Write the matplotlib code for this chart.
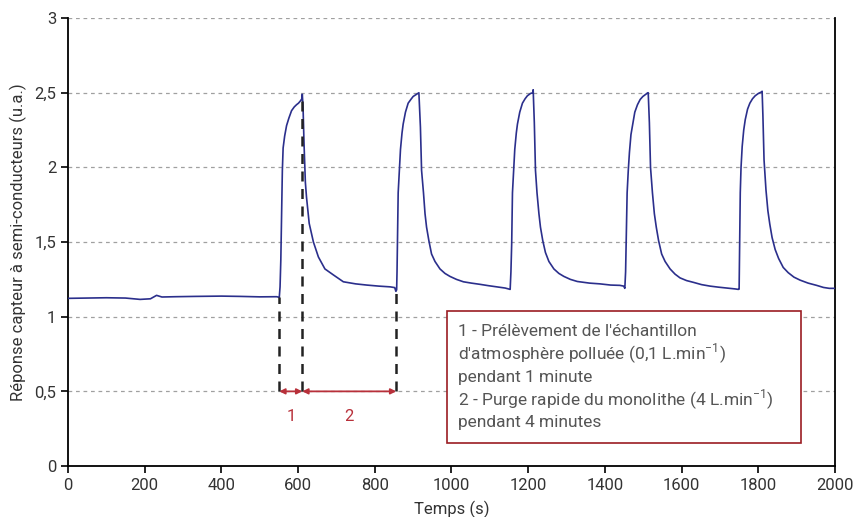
import matplotlib
matplotlib.use("Agg")
import matplotlib.pyplot as plt
from matplotlib.patches import Rectangle

plt.rcParams['font.family'] = ['Roboto', 'DejaVu Sans']
plt.rcParams['mathtext.fontset'] = 'custom'
plt.rcParams['mathtext.rm'] = 'Roboto'

# sensor response, one list pair per segment
t_base = [0, 50, 100, 150, 188, 215, 231, 245, 280, 330, 400, 450, 500, 544, 551]
y_base = [1.123, 1.125, 1.127, 1.125, 1.116, 1.12, 1.143, 1.132, 1.134, 1.136, 1.138, 1.136, 1.133, 1.134, 1.13]

t_c1 = [553, 555, 557, 559, 561, 565, 570, 576, 583, 590, 596, 601, 606, 610, 611, 613, 615.5, 619, 622,
        629, 640, 653, 670, 692, 718, 750, 779, 810, 840, 852, 855]
y_c1 = [1.20, 1.38, 1.70, 1.98, 2.13, 2.21, 2.28, 2.33, 2.38, 2.405, 2.42, 2.43, 2.445, 2.46, 2.49, 2.40, 2.16, 1.90, 1.80,
        1.625, 1.50, 1.40, 1.32, 1.28, 1.234, 1.22, 1.212, 1.205, 1.20, 1.195, 1.17]

t_c2 = [857, 858, 859, 861, 864, 867, 871, 874, 880, 887, 894, 900, 909, 915, 919, 922, 927, 931, 935,
        941, 948, 957, 970, 983, 996, 1013, 1031, 1052, 1074, 1096, 1118, 1140, 1151]
y_c2 = [1.18, 1.30, 1.49, 1.83, 1.98, 2.12, 2.23, 2.29, 2.37, 2.43, 2.455, 2.475, 2.49, 2.50, 2.27, 1.98, 1.83, 1.69, 1.60,
        1.51, 1.42, 1.37, 1.32, 1.29, 1.27, 1.25, 1.234, 1.225, 1.217, 1.208, 1.20, 1.192, 1.185]

t_c3 = [1153, 1155, 1157, 1159, 1162, 1165, 1169, 1172, 1178, 1185, 1192, 1198, 1206, 1212, 1213, 1216, 1219, 1223,
        1228, 1232, 1238, 1245, 1254, 1267, 1280, 1293, 1310, 1328, 1360, 1387, 1415, 1439, 1449, 1452]
y_c3 = [1.183, 1.30, 1.49, 1.83, 1.98, 2.12, 2.23, 2.29, 2.37, 2.43, 2.46, 2.48, 2.495, 2.50, 2.52, 2.30, 1.98, 1.83,
        1.69, 1.60, 1.51, 1.43, 1.37, 1.32, 1.29, 1.27, 1.25, 1.236, 1.225, 1.22, 1.212, 1.21, 1.205, 1.19]

t_c4 = [1454, 1456, 1458, 1461, 1464, 1468, 1472, 1478, 1485, 1492, 1499, 1507, 1512, 1513, 1516, 1519, 1524,
        1529, 1534, 1540, 1548, 1557, 1570, 1583, 1596, 1613, 1631, 1652, 1674, 1696, 1718, 1740, 1748]
y_c4 = [1.30, 1.55, 1.83, 1.98, 2.10, 2.22, 2.28, 2.37, 2.42, 2.455, 2.475, 2.49, 2.50, 2.50, 2.30, 2.00, 1.83,
        1.69, 1.60, 1.51, 1.42, 1.37, 1.32, 1.285, 1.26, 1.242, 1.23, 1.215, 1.205, 1.198, 1.192, 1.186, 1.183]

t_c5 = [1750, 1751, 1753, 1755, 1758, 1762, 1766, 1772, 1778, 1785, 1792, 1800, 1808, 1810, 1812, 1815, 1820,
        1825, 1830, 1836, 1844, 1853, 1865, 1878, 1893, 1909, 1930, 1952, 1970, 1985, 2000]
y_c5 = [1.185, 1.40, 1.83, 2.00, 2.14, 2.25, 2.32, 2.39, 2.43, 2.46, 2.48, 2.495, 2.505, 2.51, 2.35, 2.05, 1.85,
        1.71, 1.62, 1.53, 1.45, 1.39, 1.33, 1.295, 1.265, 1.245, 1.225, 1.21, 1.196, 1.19, 1.19]

# phase markers (s)
t_start = 551
t_end_sampling = 611
t_end_purge = 856

x_ticks = [0, 200, 400, 600, 800, 1000, 1200, 1400, 1600, 1800, 2000]
y_ticks = [0, 0.5, 1, 1.5, 2, 2.5, 3]
y_ticklabels = ['0', '0,5', '1', '1,5', '2', '2,5', '3']

legend_lines = ["1 - Prélèvement de l'échantillon",
                "d'atmosphère polluée (0,1 L.min$^{-1}$)",
                "pendant 1 minute",
                "2 - Purge rapide du monolithe (4 L.min$^{-1}$)",
                "pendant 4 minutes"]

t = t_base + t_c1 + t_c2 + t_c3 + t_c4 + t_c5
y = y_base + y_c1 + y_c2 + y_c3 + y_c4 + y_c5

fig = plt.figure(figsize=(8.55, 5.17), dpi=100)
ax = fig.add_axes([0.0795, 0.0986, 0.8971, 0.8664])

ax.plot(t, y, color='#2b2f8c', lw=1.2, zorder=3)

ax.set_xlim(0, 2000)
ax.set_ylim(0, 3)
ax.set_xticks(x_ticks)
ax.set_yticks(y_ticks)
ax.set_yticklabels(y_ticklabels)
ax.tick_params(direction='out', length=5, width=1.2, labelsize=12, labelcolor='#333333', color='black')
ax.grid(axis='y', linestyle=(0, (3, 3)), color='#a0a0a0', lw=0.9)
ax.set_axisbelow(True)
ax.spines['top'].set_visible(False)
for s in ['left', 'bottom', 'right']:
    ax.spines[s].set_linewidth(1.3)
    ax.spines[s].set_color('black')

ax.set_xlabel('Temps (s)', fontsize=12, color='#333333', labelpad=6)
ax.set_ylabel('Réponse capteur à semi-conducteurs (u.a.)', fontsize=12, color='#333333', labelpad=5)

# dashed vertical markers
ax.plot([t_start, t_start], [0.5, 1.13], color='#222222', lw=1.8, ls=(0, (4, 3)), zorder=4)
ax.plot([t_end_sampling, t_end_sampling], [0.5, 2.49], color='#222222', lw=1.8, ls=(0, (4, 3)), zorder=4)
ax.plot([t_end_purge, t_end_purge], [0.5, 1.18], color='#222222', lw=1.8, ls=(0, (4, 3)), zorder=4)

red = '#b8303a'
arrow = dict(arrowstyle='<|-|>', color=red, lw=1.3, mutation_scale=8, shrinkA=0, shrinkB=0)
ax.annotate('', xy=(t_start, 0.5), xytext=(t_end_sampling, 0.5), arrowprops=arrow, zorder=5)
ax.annotate('', xy=(t_end_sampling, 0.5), xytext=(t_end_purge, 0.5), arrowprops=arrow, zorder=5)
ax.text((t_start + t_end_sampling) / 2, 0.33, '1', color=red, fontsize=12, ha='center', va='center')
ax.text((t_end_sampling + t_end_purge) / 2, 0.33, '2', color=red, fontsize=12, ha='center', va='center')

# explanation box
ax.add_patch(Rectangle((988, 0.155), 923, 0.88, facecolor='white', edgecolor='#9b1c22', lw=1.2, zorder=4))
for i, line in enumerate(legend_lines):
    ax.text(1017, 0.90 - i * 0.152, line, fontsize=12.5, color='#555555', va='center', ha='left', zorder=5)

fig.savefig('out.png', dpi=100)
